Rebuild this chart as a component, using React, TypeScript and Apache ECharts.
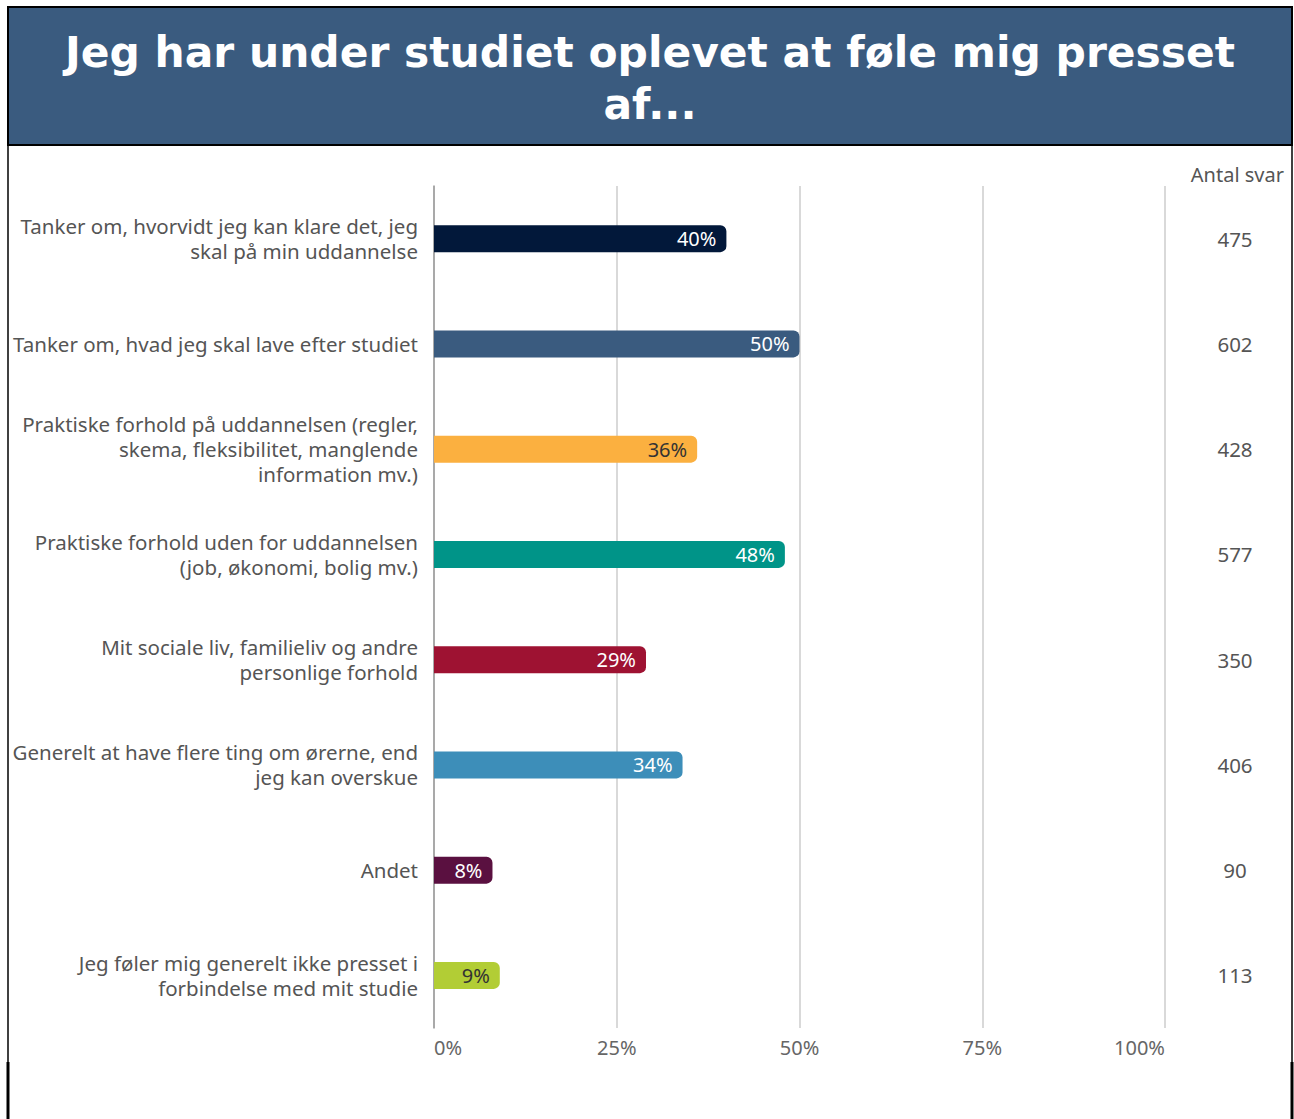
import React, { useEffect, useRef } from "react";
import * as echarts from "echarts";

const categories = [
  "Tanker om, hvorvidt jeg kan klare det, jeg\nskal på min uddannelse",
  "Tanker om, hvad jeg skal lave efter studiet",
  "Praktiske forhold på uddannelsen (regler,\nskema, fleksibilitet, manglende\ninformation mv.)",
  "Praktiske forhold uden for uddannelsen\n(job, økonomi, bolig mv.)",
  "Mit sociale liv, familieliv og andre\npersonlige forhold",
  "Generelt at have flere ting om ørerne, end\njeg kan overskue",
  "Andet",
  "Jeg føler mig generelt ikke presset i\nforbindelse med mit studie",
];
const percentages = [40, 50, 36, 48, 29, 34, 8, 9];
const counts = ["475", "602", "428", "577", "350", "406", "90", "113"];
const barColors = ["#02183a", "#3a5b7f", "#fbb040", "#009488", "#9e1232", "#3d8eb9", "#5a1040", "#b2cd35"];
const labelColors = ["#ffffff", "#ffffff", "#333333", "#ffffff", "#ffffff", "#ffffff", "#ffffff", "#333333"];
const titleText = "Jeg har under studiet oplevet at føle mig presset\naf...";
const countHeader = "Antal svar";

export default function App() {
  const ref = useRef<HTMLDivElement>(null);
  useEffect(() => {
    if (!ref.current) return;
    const chart = echarts.init(ref.current, null, { renderer: "svg" });
    chart.setOption({
      animation: false,
      backgroundColor: "#ffffff",
      graphic: [
        {
          type: "rect",
          z: -10,
          shape: { x: 8, y: 7, width: 1284, height: 138 },
          style: { fill: "#3a5b7f", stroke: "#000000", lineWidth: 2 },
        },
        {
          type: "text",
          x: 650,
          y: 26,
          z: 10,
          style: {
            text: titleText,
            font: "bold 42.4px 'DejaVu Sans'",
            lineHeight: 52,
            fill: "#ffffff",
            align: "center",
            verticalAlign: "top",
          },
        },
        { type: "line", shape: { x1: 8, y1: 145, x2: 8, y2: 1119 }, style: { stroke: "#000", lineWidth: 1.5 } },
        { type: "line", shape: { x1: 8, y1: 1062, x2: 8, y2: 1119 }, style: { stroke: "#000", lineWidth: 3 } },
        { type: "line", shape: { x1: 1292, y1: 145, x2: 1292, y2: 1119 }, style: { stroke: "#000", lineWidth: 1.5 } },
        { type: "line", shape: { x1: 1292, y1: 1062, x2: 1292, y2: 1119 }, style: { stroke: "#000", lineWidth: 3 } },
        {
          type: "text",
          x: 1284,
          y: 174,
          style: {
            text: countHeader,
            font: "20px 'Noto Sans'",
            fill: "#555555",
            align: "right",
            verticalAlign: "middle",
          },
        },
      ],
      grid: { left: 434, right: 129, top: 186, bottom: 91, containLabel: false },
      xAxis: {
        type: "value",
        min: 0,
        max: 100,
        interval: 25,
        axisLine: { show: false },
        axisTick: { show: false },
        splitLine: { show: true, lineStyle: { color: "#cccccc", width: 1.5 } },
        axisLabel: {
          formatter: "{value}%",
          fontFamily: "Noto Sans",
          fontSize: 20,
          color: "#666666",
          margin: 9,
          alignMinLabel: "left",
          alignMaxLabel: "right",
        },
      },
      yAxis: [
        {
          type: "category",
          data: categories,
          inverse: true,
          axisLine: { show: true, lineStyle: { color: "#999999", width: 1.5 } },
          axisTick: { show: false },
          axisLabel: {
            fontFamily: "Noto Sans",
            fontSize: 20.5,
            lineHeight: 25,
            color: "#555555",
            margin: 16,
            align: "right",
          },
        },
        {
          type: "category",
          data: counts,
          inverse: true,
          position: "right",
          axisLine: { show: false },
          axisTick: { show: false },
          axisLabel: {
            fontFamily: "Noto Sans",
            fontSize: 20.5,
            color: "#555555",
            margin: 70,
            align: "center",
          },
        },
      ],
      series: [
        {
          type: "bar",
          yAxisIndex: 0,
          barWidth: 27,
          data: percentages.map((v, i) => ({
            value: v,
            itemStyle: { color: barColors[i], borderRadius: [0, 6, 6, 0] },
            label: { color: labelColors[i] },
          })),
          label: {
            show: true,
            position: "insideRight",
            distance: 10,
            formatter: "{c}%",
            fontFamily: "Noto Sans",
            fontSize: 20,
          },
        },
      ],
    });
    return () => chart.dispose();
  }, []);
  return (
    <div
      ref={ref}
      style={{ position: "absolute", left: 0, top: 0, width: 1294, height: 1119 }}
    />
  );
}
